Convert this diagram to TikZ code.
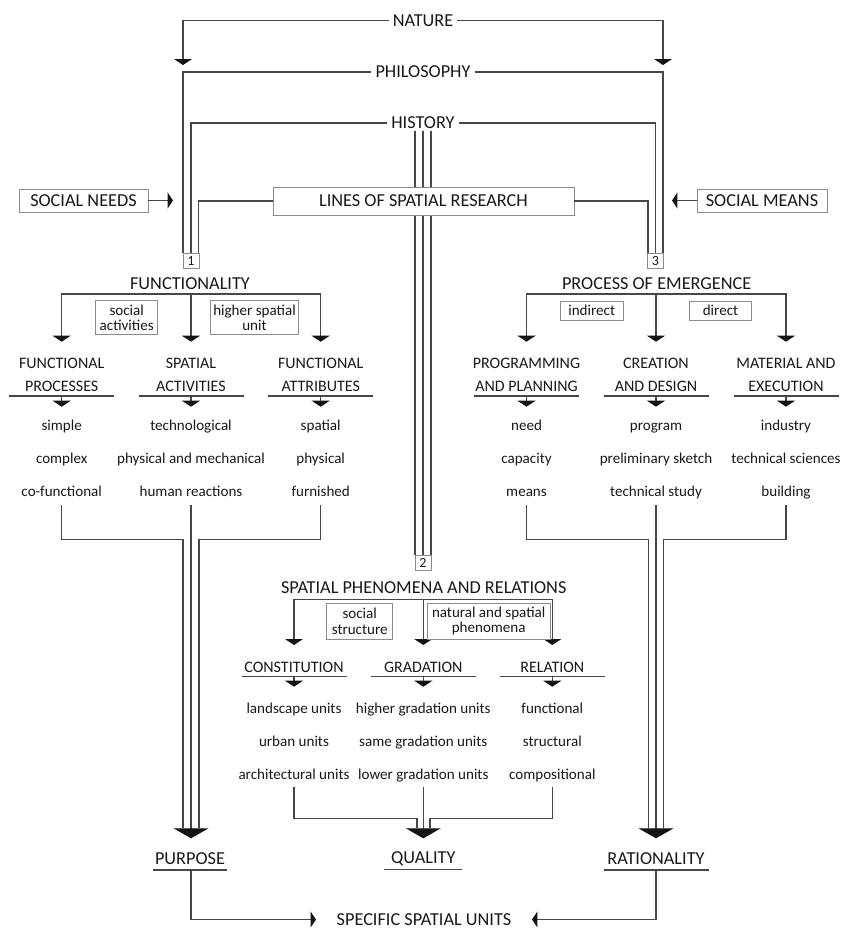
\documentclass[tikz,border=0pt]{standalone}
\usepackage{fontspec}
\setmainfont{Carlito}
\usetikzlibrary{arrows.meta}
\begin{document}
\begin{tikzpicture}[x=0.75pt,y=-0.75pt,
  ln/.style={draw=black!72,line width=0.8pt},
  tipm/.tip={Triangle[width=13.5pt,length=4.5pt,color=black!92]},
  tipb/.tip={Triangle[width=26.25pt,length=7.5pt,color=black!92]},
  tips/.tip={Triangle[width=12pt,length=4.1pt,color=black!92]},
  ttl/.style={font=\fontsize{13.7}{16}\selectfont,text=black!90,inner xsep=3pt,inner ysep=0pt},
  cat/.style={font=\fontsize{12}{17.25}\selectfont,text=black!90,align=center,inner sep=0pt},
  itm/.style={font=\fontsize{11.3}{13}\selectfont,text=black!90,anchor=base,inner sep=0pt},
  bx/.style={draw=black!45,line width=0.6pt,fill=white,font=\fontsize{11.3}{11.3}\selectfont,text=black!90,align=center,inner sep=0pt},
  bxl/.style={draw=black!45,line width=0.6pt,fill=white,font=\fontsize{13.7}{16}\selectfont,text=black!90,inner sep=0pt},
  num/.style={draw=black!45,line width=0.6pt,fill=white,font=\fontsize{10.5}{11}\selectfont,text=black!90,inner sep=0pt,minimum width=12pt,minimum height=11.25pt}
]
\useasboundingbox (0,0) rectangle (844,929);

% ---------- top ----------
\node[ttl] (nature) at (423,20.5) {NATURE};
\node[ttl] (philosophy) at (423,72) {PHILOSOPHY};
\node[ttl] (history) at (423,123) {HISTORY};
\draw[ln,-tipm] (nature.west) -| (183,65);
\draw[ln,-tipm] (nature.east) -| (663,65);
\draw[ln] (philosophy.west) -| (183,253);
\draw[ln] (philosophy.east) -| (663,253);
\draw[ln] (history.west) -| (191,253);
\draw[ln] (history.east) -| (655.5,253);
\draw[ln] (415,131) -- (415,555);
\draw[ln] (423,131) -- (423,555);
\draw[ln] (431,131) -- (431,555);

\node[bxl,minimum width=225.75pt,minimum height=21pt] (lines) at (423.5,201) {LINES OF SPATIAL RESEARCH};
\draw[ln] (lines.west) -| (198.5,253);
\draw[ln] (lines.east) -| (648,253);
\node[num] (n1) at (191,260.5) {1};
\node[num] (n3) at (655.5,260.5) {3};
\node[num] (n2) at (423,562.5) {2};

\node[bxl,minimum width=96.75pt,minimum height=17.25pt] (needs) at (83.5,200.5) {SOCIAL NEEDS};
\node[bxl,minimum width=97.5pt,minimum height=17.25pt] (means) at (762,200.5) {SOCIAL MEANS};
\coordinate (needsT) at (173,200.5);
\coordinate (meansT) at (672,200.5);
\draw[ln,-tips] (needs.east) -- (needsT);
\draw[ln,-tips] (means.west) -- (meansT);

% ---------- FUNCTIONALITY ----------
\node[ttl] (func) at (190,283.7) {FUNCTIONALITY};
\coordinate (fb) at (191,294);
\draw[ln,-tipm] (fb) -| (61.7,341.7);
\draw[ln,-tipm] (fb) -- (191,341.7);
\draw[ln,-tipm] (fb) -| (320.7,341.7);
\node[bx,minimum width=46.5pt,minimum height=25.5pt] (socact) at (126.7,317.8) {social\\activities};
\node[bx,minimum width=65.7pt,minimum height=25.5pt] (higher) at (254.5,317.8) {higher spatial\\unit};

\node[cat] (fp) at (61.7,374.5) {FUNCTIONAL\\PROCESSES};
\node[cat] (sa) at (191,374.5) {SPATIAL\\ACTIVITIES};
\node[cat] (fa) at (320.7,374.5) {FUNCTIONAL\\ATTRIBUTES};
\draw[ln] (9.2,396) -- (114.2,396);
\draw[ln] (138.5,396) -- (243.5,396);
\draw[ln] (268.2,396) -- (373.2,396);
\draw[ln,-tipm] (61.7,396) -- (61.7,406.7);
\draw[ln,-tipm] (191,396) -- (191,406.7);
\draw[ln,-tipm] (320.7,396) -- (320.7,406.7);

\node[itm] (f11) at (61.7,430) {simple};
\node[itm] (f12) at (61.7,463) {complex};
\node[itm] (f13) at (61.7,496) {co-functional};
\node[itm] (f21) at (191,430) {technological};
\node[itm] (f22) at (191,463) {physical and mechanical};
\node[itm] (f23) at (191,496) {human reactions};
\node[itm] (f31) at (320.7,430) {spatial};
\node[itm] (f32) at (320.7,463) {physical};
\node[itm] (f33) at (320.7,496) {furnished};

\draw[ln] (61.7,505) |- (183,539.3) -- (183,828.3);
\draw[ln] (320.7,505) |- (199,539.3) -- (199,828.3);
\draw[ln,-tipb] (191,505) -- (191,838.3);

\node[ttl] (purpose) at (190,858.3) {PURPOSE};
\draw[ln] (152.7,870) -- (226.7,870);

% ---------- PROCESS OF EMERGENCE ----------
\node[ttl] (proc) at (656.7,283.7) {PROCESS OF EMERGENCE};
\coordinate (pb) at (656,294);
\draw[ln,-tipm] (pb) -| (526.5,341.7);
\draw[ln,-tipm] (pb) -- (656,341.7);
\draw[ln,-tipm] (pb) -| (786,341.7);
\node[bx,minimum width=47.5pt,minimum height=13.7pt] (indirect) at (591.7,310.8) {indirect};
\node[bx,minimum width=46.8pt,minimum height=13.7pt] (direct) at (720.5,310.8) {direct};

\node[cat] (pp) at (526.5,374.5) {PROGRAMMING\\AND PLANNING};
\node[cat] (cd) at (656,374.5) {CREATION\\AND DESIGN};
\node[cat] (me) at (786,374.5) {MATERIAL AND\\EXECUTION};
\draw[ln] (474,396) -- (579,396);
\draw[ln] (603.5,396) -- (708.5,396);
\draw[ln] (733.5,396) -- (838.5,396);
\draw[ln,-tipm] (526.5,396) -- (526.5,406.7);
\draw[ln,-tipm] (656,396) -- (656,406.7);
\draw[ln,-tipm] (786,396) -- (786,406.7);

\node[itm] (p11) at (526.5,430) {need};
\node[itm] (p12) at (526.5,463) {capacity};
\node[itm] (p13) at (526.5,496) {means};
\node[itm] (p21) at (656,430) {program};
\node[itm] (p22) at (656,463) {preliminary sketch};
\node[itm] (p23) at (656,496) {technical study};
\node[itm] (p31) at (786,430) {industry};
\node[itm] (p32) at (786,463) {technical sciences};
\node[itm] (p33) at (786,496) {building};

\draw[ln] (526.5,505) |- (648.5,539.3) -- (648.5,828.3);
\draw[ln] (786,505) |- (663.5,539.3) -- (663.5,828.3);
\draw[ln,-tipb] (656,505) -- (656,838.3);

\node[ttl] (rational) at (656,858.3) {RATIONALITY};
\draw[ln] (604,870) -- (709,870);

% ---------- SPATIAL PHENOMENA ----------
\node[ttl] (spr) at (423.7,587.5) {SPATIAL PHENOMENA AND RELATIONS};
\coordinate (sb) at (423.3,599.3);
\draw[ln,-tipm] (sb) -| (294,645);
\draw[ln,-tipm] (sb) -- (423.3,645);
\draw[ln,-tipm] (sb) -| (552.3,645);
\node[bx,minimum width=49.5pt,minimum height=27pt] (socstr) at (359.7,621.3) {social\\structure};
\node[bx,minimum width=92pt,minimum height=27pt] (natsp) at (488.7,621.3) {natural and spatial\\phenomena};

\node[cat] (cons) at (294,667.5) {CONSTITUTION};
\node[cat] (grad) at (423.3,667.5) {GRADATION};
\node[cat] (rel) at (552.3,667.5) {RELATION};
\draw[ln] (241.7,676.7) -- (346.7,676.7);
\draw[ln] (370.7,676.7) -- (475.7,676.7);
\draw[ln] (500,676.7) -- (605,676.7);
\draw[ln,-tipm] (294,676.7) -- (294,686.7);
\draw[ln,-tipm] (423.3,676.7) -- (423.3,686.7);
\draw[ln,-tipm] (552.3,676.7) -- (552.3,686.7);

\node[itm] (s11) at (294,713.3) {landscape units};
\node[itm] (s12) at (294,746.3) {urban units};
\node[itm] (s13) at (294,779.3) {architectural units};
\node[itm] (s21) at (423.3,713.3) {higher gradation units};
\node[itm] (s22) at (423.3,746.3) {same gradation units};
\node[itm] (s23) at (423.3,779.3) {lower gradation units};
\node[itm] (s31) at (552.3,713.3) {functional};
\node[itm] (s32) at (552.3,746.3) {structural};
\node[itm] (s33) at (552.3,779.3) {compositional};

\draw[ln] (294,786.7) |- (417,818.3) -- (417,828.3);
\draw[ln] (552.3,786.7) |- (430,818.3) -- (430,828.3);
\draw[ln,-tipb] (423.3,786.7) -- (423.3,838.3);

\node[ttl] (quality) at (423.3,858.3) {QUALITY};
\draw[ln] (384,869.5) -- (462.3,869.5);

% ---------- bottom ----------
\node[ttl] (ssu) at (424,919.5) {SPECIFIC SPATIAL UNITS};
\coordinate (ssuL) at (316,919.5);
\coordinate (ssuR) at (532,919.5);
\draw[ln,-tips] (191,870) |- (ssuL);
\draw[ln,-tips] (656,870) |- (ssuR);
\end{tikzpicture}
\end{document}
